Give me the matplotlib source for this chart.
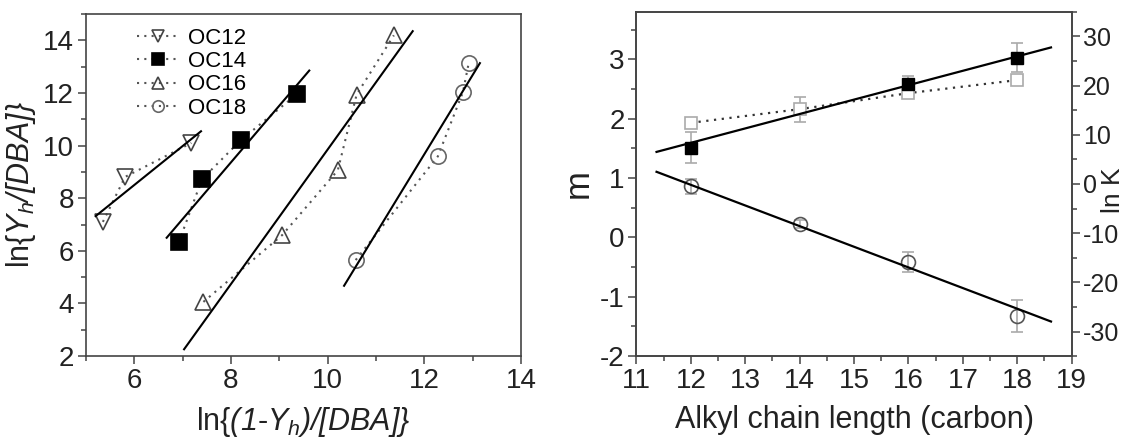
import numpy as np
import matplotlib
matplotlib.use("Agg")
import matplotlib.pyplot as plt
from matplotlib.ticker import MultipleLocator

FAM = 'Liberation Sans'
plt.rcParams['font.family'] = [FAM, 'DejaVu Sans']
plt.rcParams['mathtext.fontset'] = 'custom'
plt.rcParams['mathtext.rm'] = FAM + ':italic'
plt.rcParams['mathtext.it'] = FAM + ':italic'
plt.rcParams['axes.unicode_minus'] = False

# ---- Left panel data ----
oc12_x = [5.35, 5.81, 7.18]
oc12_y = [7.1, 8.81, 10.1]
oc12_fit = [5.2, 7.38]
oc14_x = [6.92, 7.40, 8.20, 9.36]
oc14_y = [6.32, 8.72, 10.2, 11.95]
oc14_fit = [6.67, 9.62]
oc16_x = [7.43, 9.06, 10.21, 10.6, 11.37]
oc16_y = [4.06, 6.6, 9.06, 11.94, 14.19]
oc16_fit = [7.03, 11.76]
oc18_x = [10.58, 12.28, 12.80, 12.92]
oc18_y = [5.65, 9.59, 12.04, 13.15]
oc18_fit = [10.34, 13.15]
labels = ['OC12', 'OC14', 'OC16', 'OC18']

# ---- Right panel data ----
chain = [12, 14, 16, 18]
m_vals = [1.5, np.nan, 2.58, 3.03]
m_err_lo = [0.25, 0.0, 0.1, 0.25]
m_err_hi = [0.28, 0.0, 0.14, 0.25]
m_open = [1.93, 2.16, 2.43, 2.65]
m_open_err = [0.0, 0.21, 0.0, 0.0]
lnK = [-0.5, -8.1, -15.8, -26.8]
lnK_err = [1.5, 0.8, 2.0, 3.2]
line_x = [11.37, 18.62]
m_line = [1.44, 3.2]
lnK_line = [2.47, -27.97]

fig = plt.figure(figsize=(11.25, 4.38), dpi=100)
ax1 = fig.add_axes([0.0764, 0.187, 0.3867, 0.781])
ax2 = fig.add_axes([0.5657, 0.187, 0.3869, 0.786])

spine_c = '#444444'
txt_c = '#222222'
dot = (0, (1, 2.5))

def style(ax, size=20, pad=2.5):
    for s in ax.spines.values():
        s.set_color(spine_c)
        s.set_linewidth(1.2)
    ax.tick_params(which='both', direction='out', colors=spine_c,
                   labelcolor=txt_c, labelsize=size, width=1.1, pad=pad)
    ax.tick_params(which='major', length=6)
    ax.tick_params(which='minor', length=3.5)

# Left panel
series = [
    (oc12_x, oc12_y, oc12_fit, 'v', 'none', '#444444'),
    (oc14_x, oc14_y, oc14_fit, 's', 'black', 'black'),
    (oc16_x, oc16_y, oc16_fit, '^', 'none', '#444444'),
    (oc18_x, oc18_y, oc18_fit, 'o', 'none', '#666666'),
]
handles = []
for (x, y, fr, mk, fc, ec), lab in zip(series, labels):
    h, = ax1.plot(x, y, linestyle=dot, color='#555555', lw=1.5,
                  marker=mk, ms=11, mfc=fc, mec=ec, mew=1.2, label=lab)
    handles.append(h)
    p = np.polyfit(x, y, 1)
    xf = np.array(fr)
    ax1.plot(xf, np.polyval(p, xf), color='black', lw=1.5)

ax1.set_xlim(5, 14)
ax1.set_ylim(2, 15)
ax1.xaxis.set_major_locator(MultipleLocator(2))
ax1.xaxis.set_minor_locator(MultipleLocator(1))
ax1.yaxis.set_major_locator(MultipleLocator(2))
ax1.yaxis.set_minor_locator(MultipleLocator(1))
style(ax1)
ax1.set_xlabel(r'ln{$(1$-$Y_h)/[DBA]\}$', fontsize=22, color=txt_c, labelpad=8)
ax1.set_ylabel(r'ln{$Y_h/[DBA]\}$', fontsize=22, color=txt_c, labelpad=4)
leg = ax1.legend(handles=handles, loc='upper left', bbox_to_anchor=(0.097, 0.985),
                 frameon=False, fontsize=16, handlelength=1.9, handletextpad=0.4,
                 labelspacing=0.1, markerscale=0.75, borderaxespad=0)

# Right panel
style(ax2)
ax2.errorbar(chain, m_vals, yerr=[m_err_lo, m_err_hi], fmt='none',
             ecolor='#aaaaaa', elinewidth=1.2, capsize=4, capthick=1.2, zorder=1)
ax2.errorbar(chain, m_open, yerr=m_open_err, fmt='none',
             ecolor='#aaaaaa', elinewidth=1.2, capsize=4, capthick=1.2, zorder=1)
ax2.plot(chain, m_open, linestyle=dot, color='#333333', lw=1.6,
         marker='s', ms=8.5, mfc='white', mec='#aaaaaa', mew=1.2, zorder=2)
ax2.plot(chain, m_vals, linestyle='none', marker='s', ms=8.5,
         mfc='black', mec='black', zorder=3)
ax2.plot(line_x, m_line, color='black', lw=1.6, zorder=4)
ax2.set_xlim(11, 19)
ax2.set_ylim(-2, 3.8)
ax2.xaxis.set_major_locator(MultipleLocator(1))
ax2.xaxis.set_minor_locator(MultipleLocator(0.5))
ax2.yaxis.set_major_locator(MultipleLocator(1))
ax2.yaxis.set_minor_locator(MultipleLocator(0.5))
ax2.set_xlabel('Alkyl chain length (carbon)', fontsize=22, color=txt_c, labelpad=8)
ax2.set_ylabel('m', fontsize=25, color=txt_c, labelpad=4)

ax3 = ax2.twinx()
style(ax3, size=18, pad=2)
ax3.errorbar(chain, lnK, yerr=lnK_err, fmt='none', ecolor='#aaaaaa',
             elinewidth=1.2, capsize=4, capthick=1.2, zorder=1)
ax3.plot(chain, lnK, linestyle='none', marker='o', ms=10, mfc='none',
         mec='#555555', mew=1.2, zorder=2)
ax3.plot(line_x, lnK_line, color='black', lw=1.6, zorder=3)
ax3.set_ylim(-35, 35)
ax3.yaxis.set_major_locator(MultipleLocator(10))
ax3.yaxis.set_minor_locator(MultipleLocator(5))
fig.text(1.0, 0.566, 'ln K', rotation=90, ha='right', va='center',
         fontsize=19, color=txt_c)

fig.savefig('out.png', dpi=100)
